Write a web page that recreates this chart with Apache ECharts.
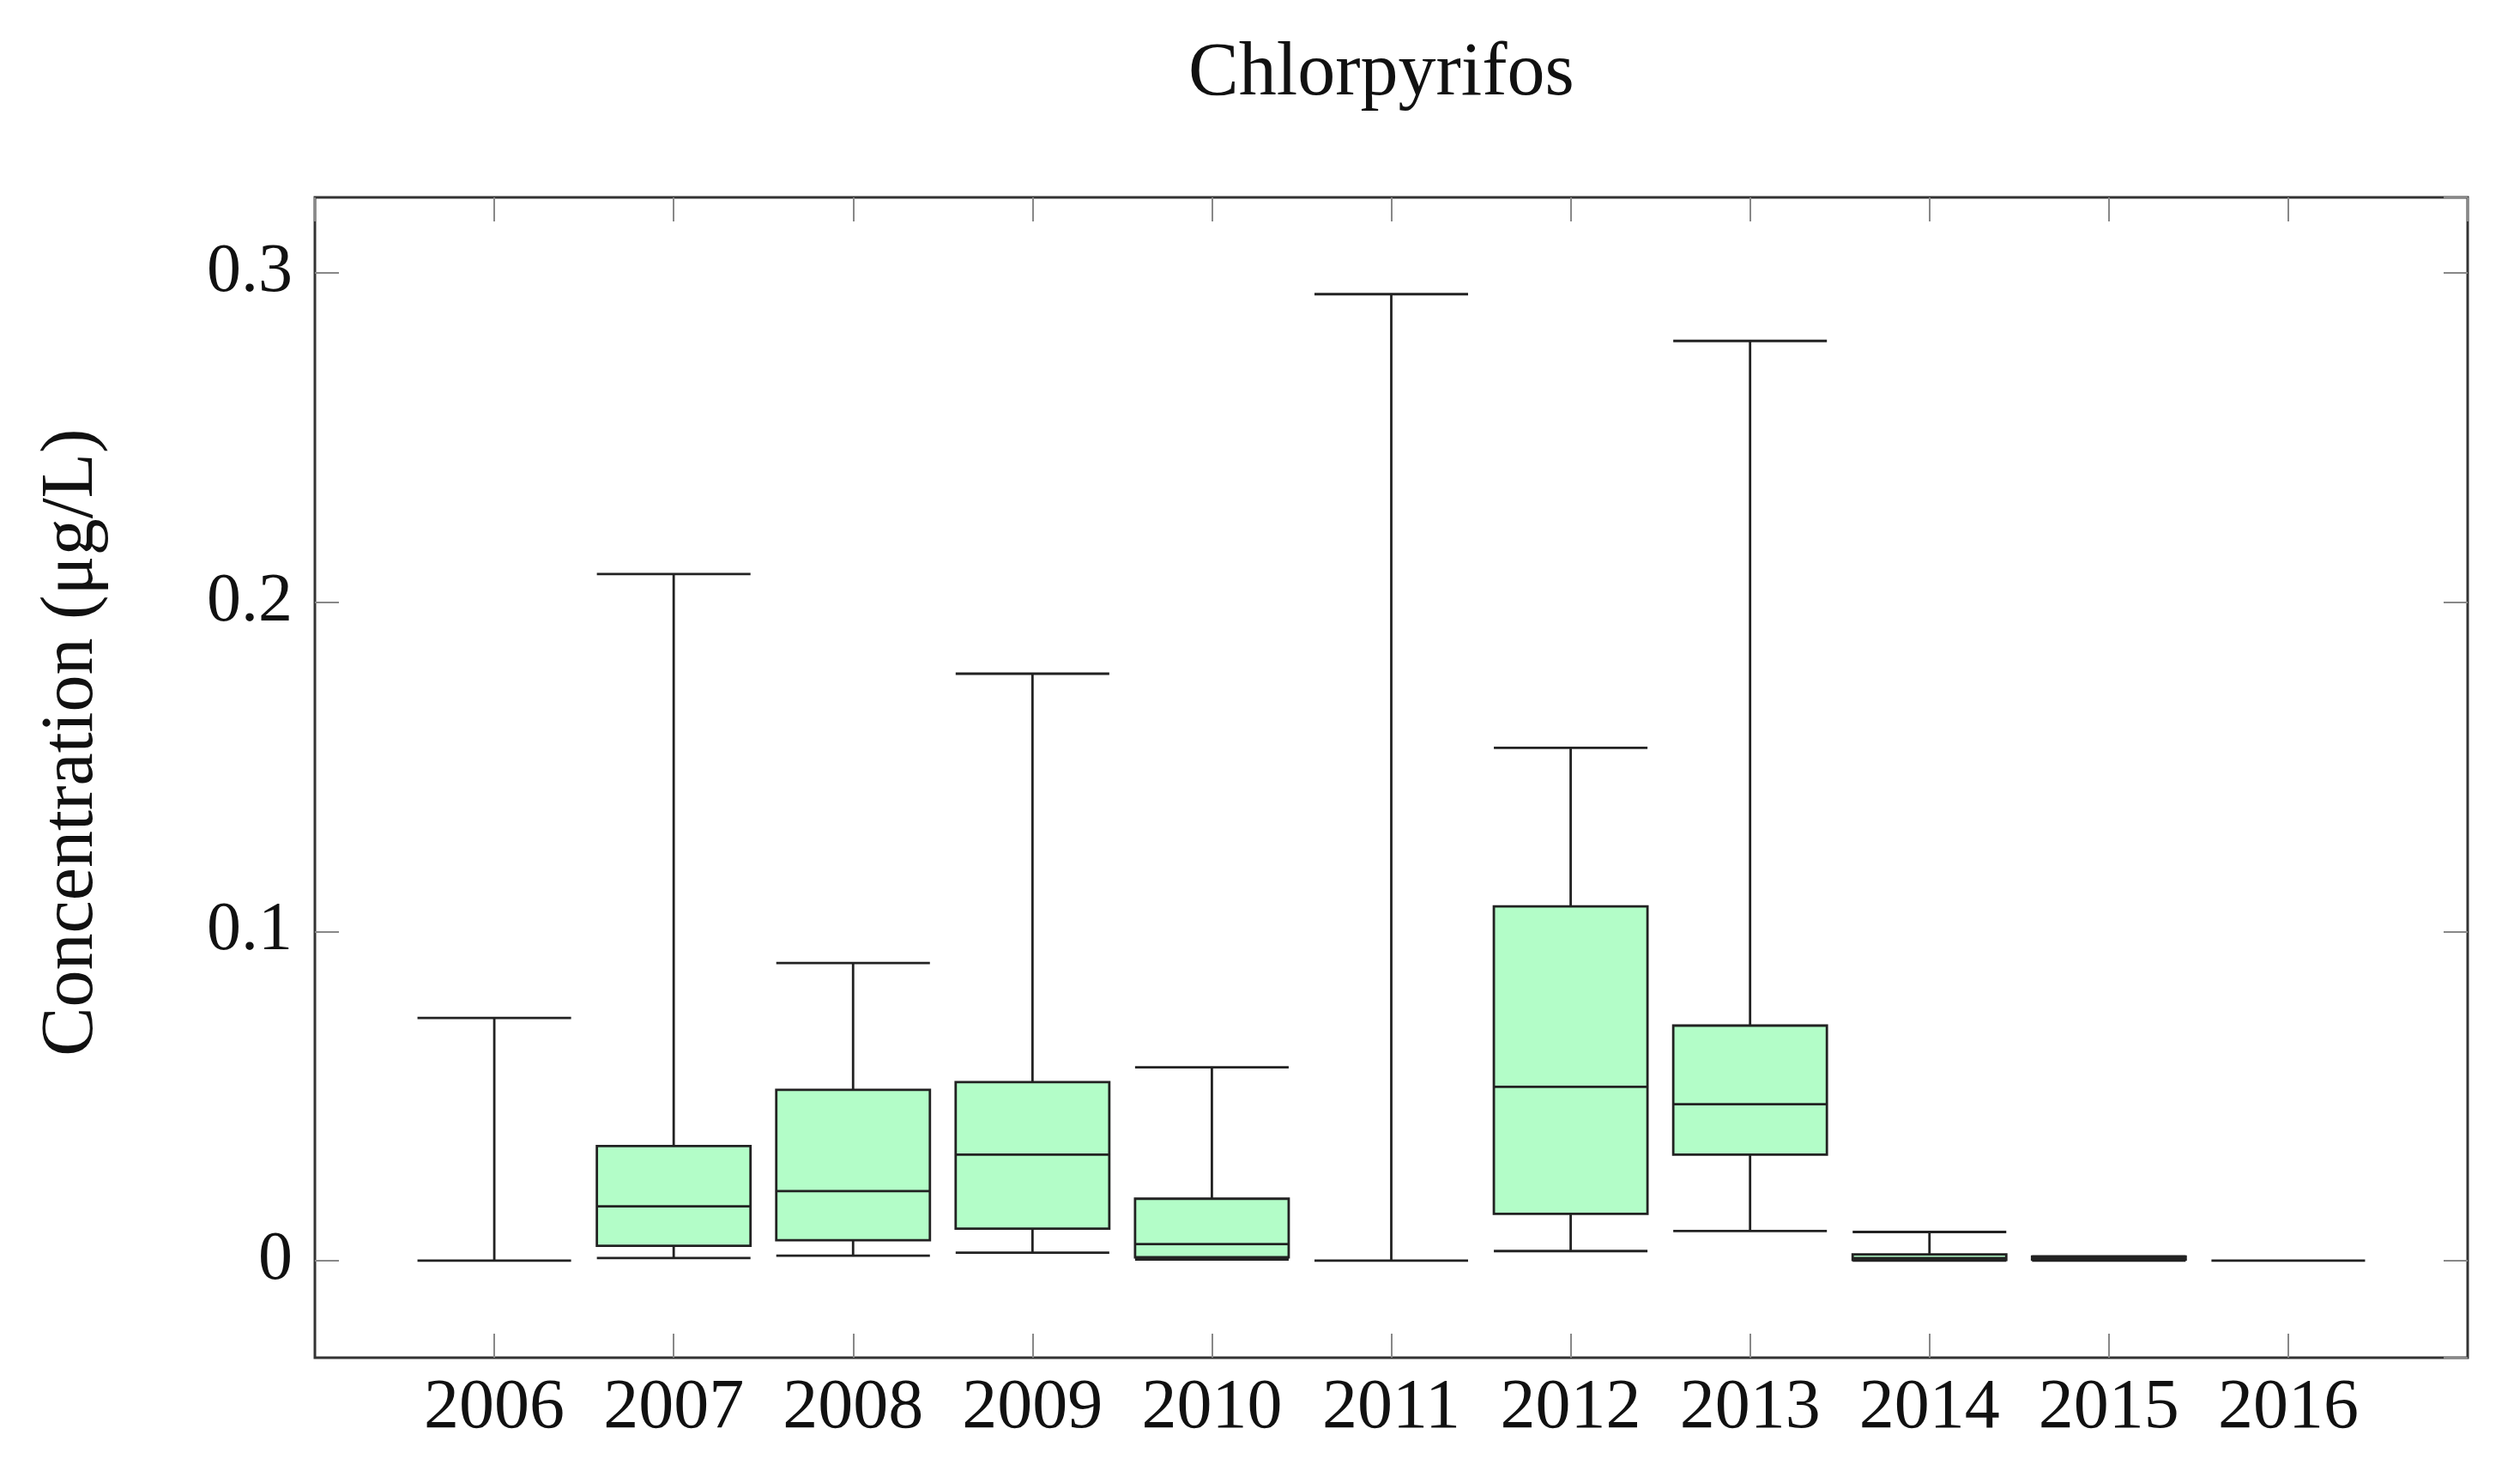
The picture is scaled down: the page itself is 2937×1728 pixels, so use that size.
<!DOCTYPE html>
<html>
<head>
<meta charset="utf-8">
<script src="https://cdn.jsdelivr.net/npm/echarts@6/dist/echarts.min.js"></script>
<style>
html,body{margin:0;padding:0;background:#fff;}
#chart{width:2937px;height:1728px;}
</style>
</head>
<body>
<div id="chart"></div>
<script>
const years   = [2006, 2007, 2008, 2009, 2010, 2011, 2012, 2013, 2014, 2015, 2016];
const mins    = [0,      0.0008, 0.0015, 0.0024, 0.0003, 0,      0.0029, 0.0090, 0,      0,      0];
const q1s     = [0,      0.0045, 0.0062, 0.0097, 0.0010, 0,      0.0142, 0.0322, 0.0002, 0.0003, 0];
const medians = [0,      0.0165, 0.0211, 0.0322, 0.0050, 0,      0.0528, 0.0475, 0.0008, 0.0007, 0];
const q3s     = [0,      0.0348, 0.0519, 0.0542, 0.0188, 0,      0.1076, 0.0714, 0.0019, 0.0012, 0];
const maxs    = [0.0737, 0.2086, 0.0904, 0.1783, 0.0587, 0.2936, 0.1558, 0.2794, 0.0087, 0.0013, 0];
const yTicks  = [0, 0.1, 0.2, 0.3];
const titleText = 'Chlorpyrifos';
const yName = 'Concentration (μg/L)';

const boxData = years.map((y, i) => [y, mins[i], q1s[i], medians[i], q3s[i], maxs[i]]);
const FONT = '"Liberation Serif", "DejaVu Serif", serif';
const xMin = years[0] - 1, xMax = years[years.length - 1] + 1;
const yMin = -0.0295, yMax = 0.323;

function yFmt(v) {
  for (const t of yTicks) { if (Math.abs(v - t) < 1e-9) return String(t); }
  return '';
}
function xFmt(v) { return years.includes(Math.round(v)) && Math.abs(v - Math.round(v)) < 1e-9 ? String(Math.round(v)) : ''; }

const tickStyle = { show: true, inside: true, length: 28, lineStyle: { color: '#888', width: 2 } };
const noLine = { show: false, onZero: false };

const chart = echarts.init(document.getElementById('chart'), null, { renderer: 'canvas' });
chart.setOption({
  animation: false,
  backgroundColor: '#ffffff',
  title: {
    text: titleText,
    left: 1380,
    top: 38,
    textStyle: { fontFamily: FONT, fontSize: 88, fontWeight: 'normal', color: '#111' }
  },
  grid: {
    left: 367, right: 61, top: 230, bottom: 146,
    show: true, borderColor: '#333', borderWidth: 3, backgroundColor: 'transparent'
  },
  xAxis: [{
    type: 'value', min: xMin, max: xMax, interval: 1, position: 'bottom',
    axisLine: noLine, splitLine: { show: false },
    axisTick: tickStyle,
    axisLabel: { formatter: xFmt, fontFamily: FONT, fontSize: 82, color: '#111', margin: 18, showMinLabel: false, showMaxLabel: false }
  }, {
    type: 'value', min: xMin, max: xMax, interval: 1, position: 'top',
    axisLine: noLine, splitLine: { show: false },
    axisTick: tickStyle, axisLabel: { show: false }
  }],
  yAxis: [{
    type: 'value', min: yMin, max: yMax, position: 'left',
    axisLine: noLine, splitLine: { show: false },
    axisTick: tickStyle,
    axisLabel: { formatter: yFmt, fontFamily: FONT, fontSize: 80, color: '#111', margin: 26, showMinLabel: false, showMaxLabel: false },
    name: yName, nameLocation: 'middle', nameGap: 240, nameRotate: 90,
    nameTextStyle: { fontFamily: FONT, fontSize: 86, color: '#111', padding: [0, 0, 0, 82] }
  }, {
    type: 'value', min: yMin, max: yMax, position: 'right',
    axisLine: noLine, splitLine: { show: false },
    axisTick: tickStyle, axisLabel: { show: false }
  }],
  series: [{
    type: 'boxplot',
    xAxisIndex: 0, yAxisIndex: 0,
    layout: 'horizontal',
    boxWidth: ['78.5%', '78.5%'],
    itemStyle: { color: '#b3fdc8', borderColor: '#222', borderWidth: 2.8 },
    emphasis: { disabled: true },
    data: boxData
  }]
});
</script>
</body>
</html>
